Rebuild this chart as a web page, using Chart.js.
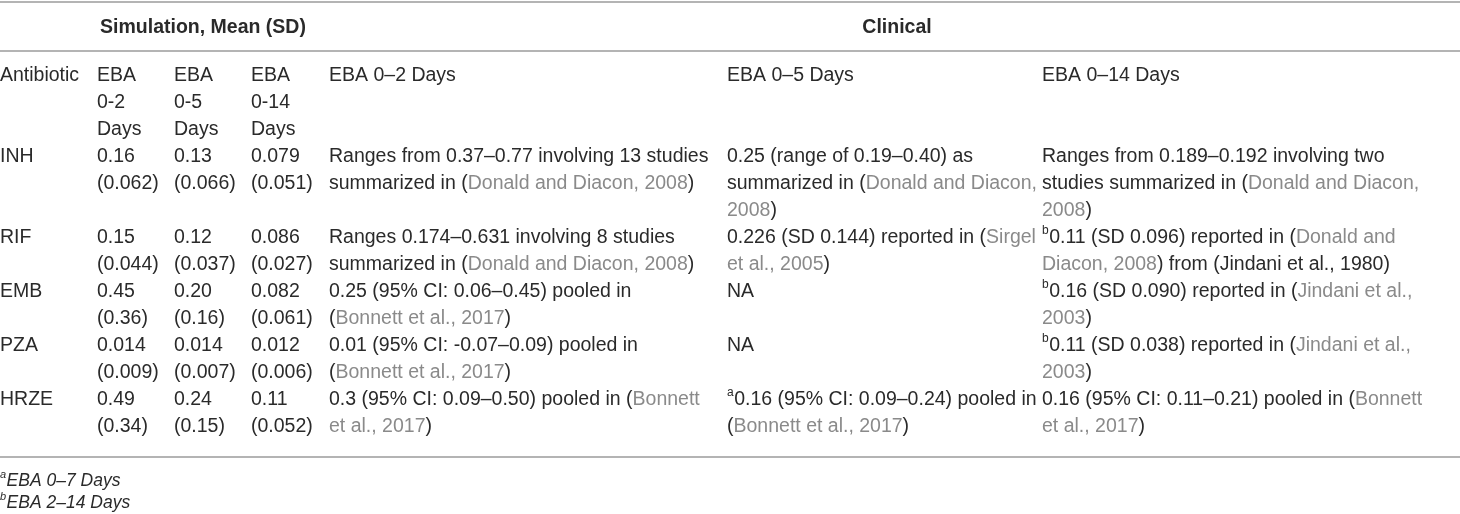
<!DOCTYPE html>
<html lang="en">
<head>
    <meta charset="UTF-8">
    <title>EBA Simulation vs Clinical</title>
    <script src="https://cdn.jsdelivr.net/npm/chart.js@4.4.1/dist/chart.umd.js"></script>
    <style>
        body { margin: 0; background: #fff; }
        #wrap { width: 1460px; height: 514px; }
    </style>
</head>
<body>
    <div id="wrap"><canvas id="tableChart" width="1460" height="514"></canvas></div>

    <script>
        // --- table data ---
        const groupHeaders = ['Simulation, Mean (SD)', 'Clinical'];
        const columnHeaders = [
            ['Antibiotic'],
            ['EBA', '0-2', 'Days'],
            ['EBA', '0-5', 'Days'],
            ['EBA', '0-14', 'Days'],
            ['EBA 0\u20132 Days'],
            ['EBA 0\u20135 Days'],
            ['EBA 0\u201314 Days']
        ];
        const antibiotics = ['INH', 'RIF', 'EMB', 'PZA', 'HRZE'];
        const sim02Mean  = ['0.16', '0.15', '0.45', '0.014', '0.49'];
        const sim02SD    = ['0.062', '0.044', '0.36', '0.009', '0.34'];
        const sim05Mean  = ['0.13', '0.12', '0.20', '0.014', '0.24'];
        const sim05SD    = ['0.066', '0.037', '0.16', '0.007', '0.15'];
        const sim014Mean = ['0.079', '0.086', '0.082', '0.012', '0.11'];
        const sim014SD   = ['0.051', '0.027', '0.061', '0.006', '0.052'];
        // [..] = citation (grey), ^x = superscript note
        const clinical02 = [
            ['Ranges from 0.37\u20130.77 involving 13 studies', 'summarized in ([Donald and Diacon, 2008])'],
            ['Ranges 0.174\u20130.631 involving 8 studies', 'summarized in ([Donald and Diacon, 2008])'],
            ['0.25 (95% CI: 0.06\u20130.45) pooled in', '([Bonnett et al., 2017])'],
            ['0.01 (95% CI: -0.07\u20130.09) pooled in', '([Bonnett et al., 2017])'],
            ['0.3 (95% CI: 0.09\u20130.50) pooled in ([Bonnett]', '[et al., 2017])']
        ];
        const clinical05 = [
            ['0.25 (range of 0.19\u20130.40) as', 'summarized in ([Donald and Diacon,]', '[2008])'],
            ['0.226 (SD 0.144) reported in ([Sirgel]', '[et al., 2005])'],
            ['NA'],
            ['NA'],
            ['^a0.16 (95% CI: 0.09\u20130.24) pooled in', '([Bonnett et al., 2017])']
        ];
        const clinical014 = [
            ['Ranges from 0.189\u20130.192 involving two', 'studies summarized in ([Donald and Diacon,]', '[2008])'],
            ['^b0.11 (SD 0.096) reported in ([Donald and]', '[Diacon, 2008]) from (Jindani et al., 1980)'],
            ['^b0.16 (SD 0.090) reported in ([Jindani et al.,]', '[2003])'],
            ['^b0.11 (SD 0.038) reported in ([Jindani et al.,]', '[2003])'],
            ['0.16 (95% CI: 0.11\u20130.21) pooled in ([Bonnett]', '[et al., 2017])']
        ];
        const footnotes = ['^aEBA 0\u20137 Days', '^bEBA 2\u201314 Days'];

        // --- layout (pixels / line units) ---
        const colX = [0, 97, 174, 251, 329, 727, 1042];
        const groupCenterX = [203, 897];
        const LINE0_PX = 76, LINE_PX = 27;
        const FONT = '"Liberation Sans", Arial, sans-serif';
        const TEXT = '#2a2a2a', CITE = '#8a8a8a', RULE = '#b4b4b4';

        function buildRows() {
            const rows = [];
            for (let i = 0; i < antibiotics.length; i++) {
                rows.push([
                    [antibiotics[i]],
                    [sim02Mean[i], '(' + sim02SD[i] + ')'],
                    [sim05Mean[i], '(' + sim05SD[i] + ')'],
                    [sim014Mean[i], '(' + sim014SD[i] + ')'],
                    clinical02[i], clinical05[i], clinical014[i]
                ]);
            }
            return rows;
        }

        function drawRich(ctx, str, x, y, size, italic) {
            const re = /\^([a-z])|\[([^\]]*)\]|([^\[\^]+)/g;
            let m;
            const base = (italic ? 'italic ' : '') + size + 'px ' + FONT;
            while ((m = re.exec(str)) !== null) {
                if (m[1]) {
                    ctx.font = (italic ? 'italic ' : '') + Math.round(size * 0.62) + 'px ' + FONT;
                    ctx.fillStyle = TEXT;
                    ctx.fillText(m[1], x, y - size * 0.36);
                    x += ctx.measureText(m[1]).width + 0.5;
                } else {
                    const t = m[2] !== undefined ? m[2] : m[3];
                    ctx.font = base;
                    ctx.fillStyle = m[2] !== undefined ? CITE : TEXT;
                    ctx.fillText(t, x, y);
                    x += ctx.measureText(t).width;
                }
            }
        }

        const tablePlugin = {
            id: 'tableDraw',
            afterDraw(chart) {
                const ctx = chart.ctx;
                const xs = chart.scales.x, ys = chart.scales.y;
                const X = v => xs.getPixelForValue(v);
                const Y = v => ys.getPixelForValue(v);
                ctx.save();
                ctx.textBaseline = 'middle';
                ctx.textAlign = 'left';

                // rules
                ctx.strokeStyle = RULE;
                ctx.lineWidth = 2;
                [-2.74, -0.926, 14.11].forEach(v => {
                    ctx.beginPath();
                    ctx.moveTo(X(0), Math.round(Y(v)));
                    ctx.lineTo(X(1460), Math.round(Y(v)));
                    ctx.stroke();
                });

                // group headers
                ctx.font = 'bold 19.5px ' + FONT;
                ctx.fillStyle = TEXT;
                ctx.textAlign = 'center';
                groupHeaders.forEach((h, i) => ctx.fillText(h, X(groupCenterX[i]), Y(-1.81)));
                ctx.textAlign = 'left';

                // column headers
                columnHeaders.forEach((lines, c) => {
                    lines.forEach((t, k) => drawRich(ctx, t, X(colX[c]), Y(k), 19.5, false));
                });

                // body rows
                let line = 3;
                buildRows().forEach(row => {
                    let h = 0;
                    row.forEach((cell, c) => {
                        cell.forEach((t, k) => drawRich(ctx, t, X(colX[c]), Y(line + k), 19.5, false));
                        h = Math.max(h, cell.length);
                    });
                    line += h;
                });

                // footnotes
                footnotes.forEach((t, k) => drawRich(ctx, t, X(0), Y(15.0 + k * 0.83), 17.5, true));
                ctx.restore();
            }
        };

        new Chart(document.getElementById('tableChart').getContext('2d'), {
            type: 'scatter',
            data: { datasets: [] },
            options: {
                responsive: false,
                animation: false,
                layout: { padding: 0 },
                plugins: { legend: { display: false }, tooltip: { enabled: false } },
                scales: {
                    x: { type: 'linear', display: false, min: 0, max: 1460 },
                    y: {
                        type: 'linear', display: false, reverse: true,
                        min: -LINE0_PX / LINE_PX, max: (514 - LINE0_PX) / LINE_PX
                    }
                }
            },
            plugins: [tablePlugin]
        });
    </script>
</body>
</html>
